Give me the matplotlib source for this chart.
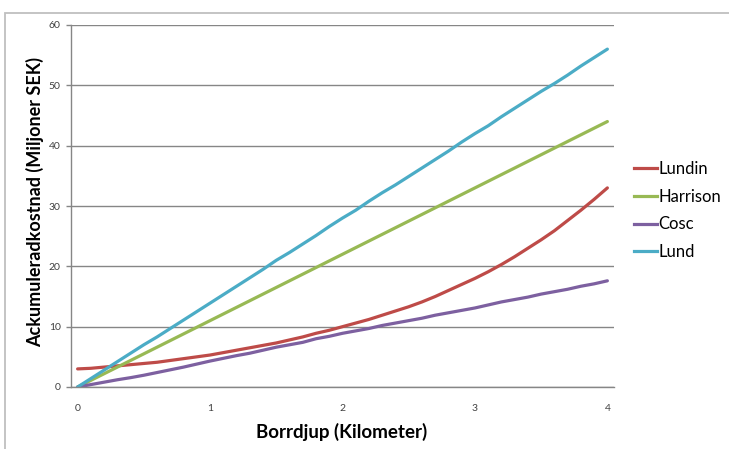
import matplotlib
matplotlib.use("Agg")
import matplotlib.pyplot as plt
from matplotlib.lines import Line2D

# Depth categories (km), one every 0.1 km
depth = [round(i * 0.1, 1) for i in range(41)]
tick_values = [0, 1, 2, 3, 4]
tick_labels = ["0", "1", "2", "3", "4"]
y_ticks = [0, 10, 20, 30, 40, 50, 60]

series_names = ["Lundin", "Harrison", "Cosc", "Lund"]

lundin = [3.0, 3.1, 3.3, 3.5, 3.7, 3.9, 4.1, 4.4, 4.7, 5.0,
          5.3, 5.7, 6.1, 6.5, 6.9, 7.3, 7.8, 8.3, 8.9, 9.4,
          10.0, 10.6, 11.2, 11.9, 12.6, 13.3, 14.1, 15.0, 16.0, 17.0,
          18.0, 19.1, 20.3, 21.6, 23.0, 24.4, 25.9, 27.6, 29.3, 31.1,
          33.0]
harrison = [0.0, 1.1, 2.2, 3.3, 4.4, 5.5, 6.6, 7.7, 8.8, 9.9,
            11.0, 12.1, 13.2, 14.3, 15.4, 16.5, 17.6, 18.7, 19.8, 20.9,
            22.0, 23.1, 24.2, 25.3, 26.4, 27.5, 28.6, 29.7, 30.8, 31.9,
            33.0, 34.1, 35.2, 36.3, 37.4, 38.5, 39.6, 40.7, 41.8, 42.9,
            44.0]
cosc = [0.0, 0.4, 0.8, 1.2, 1.55, 1.95, 2.4, 2.85, 3.3, 3.8,
        4.3, 4.75, 5.2, 5.6, 6.1, 6.6, 7.0, 7.4, 8.0, 8.4,
        8.9, 9.3, 9.7, 10.2, 10.6, 11.0, 11.4, 11.9, 12.3, 12.7,
        13.1, 13.6, 14.1, 14.5, 14.9, 15.4, 15.8, 16.2, 16.7, 17.1,
        17.6]
lund = [0.0, 1.4, 2.8, 4.2, 5.6, 7.0, 8.3, 9.7, 11.1, 12.5,
        13.9, 15.3, 16.7, 18.1, 19.5, 21.0, 22.3, 23.7, 25.1, 26.6,
        28.0, 29.3, 30.8, 32.2, 33.5, 34.9, 36.3, 37.7, 39.1, 40.6,
        42.0, 43.3, 44.8, 46.2, 47.6, 49.0, 50.3, 51.7, 53.2, 54.6,
        56.0]

colors = ["#BE4B48", "#98B954", "#7D60A0", "#4BACC6"]

W, H, DPI = 729, 449, 100
fig = plt.figure(figsize=(W / DPI, H / DPI), dpi=DPI)
fig.patch.set_facecolor("white")

# outer chart frame (left and top edges visible)
frame = plt.Rectangle((5 / W, -0.1), 1.2, (H - 13) / H + 0.1, transform=fig.transFigure,
                      fill=False, edgecolor="#BFBFBF", linewidth=1.3)
fig.add_artist(frame)

left, right, top, bottom = 71, 614, 25, 387
ax = fig.add_axes([left / W, 1 - bottom / H, (right - left) / W, (bottom - top) / H])

font = "Lato"
for name, vals, c in zip(series_names, [lundin, harrison, cosc, lund], colors):
    ax.plot(depth, vals, color=c, linewidth=2.3, solid_capstyle="round", label=name)

ax.set_xlim(-0.05, 4.05)
ax.set_ylim(0, 60)
ax.set_yticks(y_ticks)
ax.set_yticklabels([str(v) for v in y_ticks], fontsize=7.5, family=font, color="#404040")
ax.set_xticks(tick_values)
ax.set_xticklabels(tick_labels, fontsize=7.5, family=font, color="#404040")
ax.tick_params(axis="x", length=0, pad=12)
ax.tick_params(axis="y", length=3.5, width=1, color="#868686", pad=4)

ax.grid(axis="y", color="#868686", linewidth=1)
ax.set_axisbelow(True)
for s in ["top", "right"]:
    ax.spines[s].set_visible(False)
ax.spines["left"].set_color("#868686")
ax.spines["bottom"].set_color("#868686")
ax.spines["left"].set_linewidth(1)
ax.spines["bottom"].set_linewidth(1)

fig.text(35 / W, 1 - 202 / H, "Ackumuleradkostnad (Miljoner SEK)", rotation=90,
         ha="center", va="center", fontsize=13, fontweight="bold", family=font)
fig.text(342 / W, 1 - 432 / H, "Borrdjup (Kilometer)", ha="center", va="center",
         fontsize=13.5, fontweight="bold", family=font)

handles = [Line2D([0], [0], color=c, linewidth=2.3) for c in colors]
leg = fig.legend(handles, series_names, loc="upper left",
                 bbox_to_anchor=(634 / W, 1 - 161 / H), frameon=False, borderpad=0,
                 borderaxespad=0, handlelength=1.35, handletextpad=0.12,
                 labelspacing=0.7, prop={"family": font, "size": 12})

fig.savefig("out.png", dpi=DPI, facecolor="white")
